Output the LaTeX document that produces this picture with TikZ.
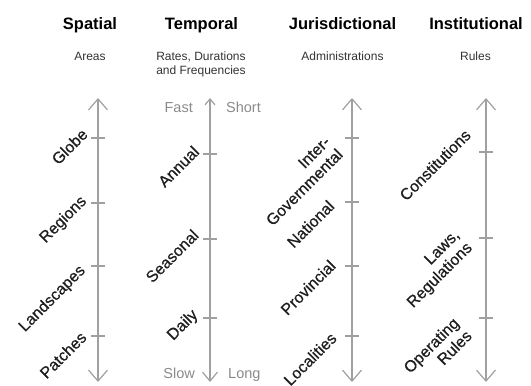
\documentclass[tikz,border=0pt]{standalone}
\usepackage{fontspec}
\setmainfont{Liberation Sans}
\usepackage{tikz}
\usetikzlibrary{arrows.meta, positioning}
\definecolor{AxisGray}{HTML}{A0A0A0}
\definecolor{InkDark}{HTML}{1E1E1E}
\definecolor{SubInk}{HTML}{333333}
\definecolor{EndGray}{HTML}{8A8A8A}
\tikzset{
  header/.style={anchor=base, inner sep=0pt, text=black, font=\fontsize{16.5}{19}\selectfont\bfseries},
  subhead/.style={anchor=base, inner sep=0pt, align=center, text=SubInk, font=\fontsize{12}{14}\selectfont},
  scalelabel/.style={rotate=45, inner sep=0pt, align=right, text=InkDark, font=\fontsize{16}{18}\selectfont\addfontfeature{FakeBold=0.6}},
  endlabel/.style={inner sep=0pt, text=EndGray, font=\fontsize{14.5}{17}\selectfont},
  scaleaxis/.style={<->, >={Straight Barb[length=11pt, width=19pt]}, line width=1.2pt, draw=AxisGray},
  tickmark/.style={line width=1.2pt, draw=AxisGray}
}

\begin{document}
\begin{tikzpicture}[x=1pt, y=-1pt]
\useasboundingbox (0,0) rectangle (531,386);
% headers
\node[header] (sphead) at (90,29) {Spatial};
\node[header] (tphead) at (201.5,29) {Temporal};
\node[header] (juhead) at (342.5,29) {Jurisdictional};
\node[header] (inhead) at (476,29) {Institutional};
\node[subhead] (spsub) at (90,60) {Areas};
\node[subhead] (tpsub) at (201,74) {Rates, Durations\\and Frequencies};
\node[subhead] (jusub) at (342.5,60) {Administrations};
\node[subhead] (insub) at (475.5,60) {Rules};
% axes
\coordinate (spTop) at (98,98);
\coordinate (spBot) at (98,382);
\coordinate (tpTop) at (210,98);
\coordinate (tpBot) at (210,382);
\coordinate (juTop) at (352,98);
\coordinate (juBot) at (352,382);
\coordinate (inTop) at (486,98);
\coordinate (inBot) at (486,382);
\draw[scaleaxis] (spBot) -- (spTop);
\draw[scaleaxis, {Straight Barb[length=9pt, width=15pt]}-{Straight Barb[length=6pt, width=10pt]}] (tpBot) -- (tpTop);
\draw[scaleaxis] (juBot) -- (juTop);
\draw[scaleaxis] (inBot) -- (inTop);
\foreach \y in {138,203,266,336} \draw[tickmark] (91,\y) -- (105,\y);
\foreach \y in {154,239,318} \draw[tickmark] (203,\y) -- (217,\y);
\foreach \y in {138,202,266,336} \draw[tickmark] (345,\y) -- (359,\y);
\foreach \y in {152,238,318} \draw[tickmark] (479,\y) -- (493,\y);
% end labels
\node[endlabel, anchor=base east] (fast) at (193,112) {Fast};
\node[endlabel, anchor=base west] (short) at (226,112) {Short};
\node[endlabel, anchor=base east] (slow) at (195,378) {Slow};
\node[endlabel, anchor=base west] (long) at (228,378) {Long};
% scale labels
\node[scalelabel] (globe) at (69.5,146.5) {Globe};
\node[scalelabel] (regions) at (63.5,220) {Regions};
\node[scalelabel] (landscapes) at (52.5,299) {Landscapes};
\node[scalelabel] (patches) at (63,355) {Patches};
\node[scalelabel] (annual) at (178.5,166.5) {Annual};
\node[scalelabel] (seasonal) at (172,256) {Seasonal};
\node[scalelabel] (daily) at (183,325.5) {Daily};
\node[scalelabel] (intergov) at (298,181) {Inter-\\Governmental};
\node[scalelabel] (national) at (310.5,224) {National};
\node[scalelabel] (provincial) at (308,287.5) {Provincial};
\node[scalelabel] (localities) at (310,359) {Localities};
\node[scalelabel] (constitutions) at (435,165) {Constitutions};
\node[scalelabel] (laws) at (434,269.5) {Laws,\\Regulations};
\node[scalelabel] (operating) at (437.5,351.5) {Operating\\Rules};
\end{tikzpicture}
\end{document}
